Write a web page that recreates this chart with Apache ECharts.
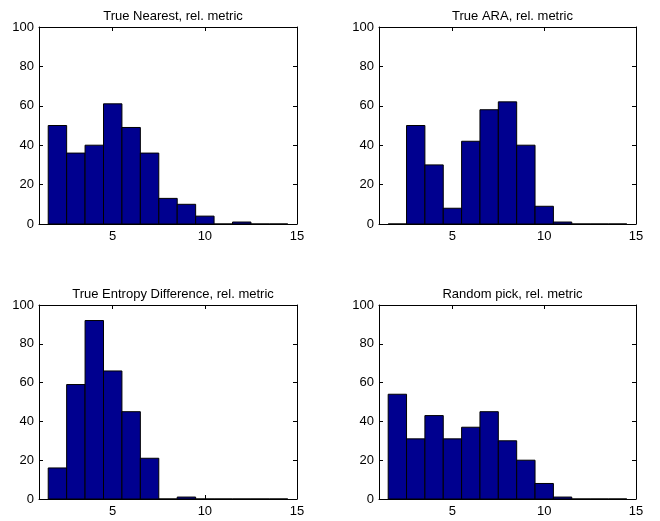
<!DOCTYPE html>
<html>
<head>
<meta charset="utf-8">
<script src="https://cdn.jsdelivr.net/npm/echarts@6/dist/echarts.min.js"></script>
<style>
  html, body { margin: 0; padding: 0; background: #fff; }
  #chart { width: 660px; height: 521px; }
</style>
</head>
<body>
<div id="chart"></div>
<script>
// Histogram bin centres (unit-width bins) shared by all panels
const binCenters = [2, 3, 4, 5, 6, 7, 8, 9, 10, 11, 12, 13, 14];

// Counts per bin for each selection method
const nearestCounts = [50, 36, 40, 61, 49, 36, 13, 10, 4, 0, 1, 0, 0];
const araCounts     = [0, 50, 30, 8, 42, 58, 62, 40, 9, 1, 0, 0, 0];
const entropyCounts = [16, 59, 92, 66, 45, 21, 0, 1, 0, 0, 0, 0, 0];
const randomCounts  = [54, 31, 43, 31, 37, 45, 30, 20, 8, 1, 0, 0, 0];

const panelTitles = [
  'True Nearest, rel. metric',
  'True ARA, rel. metric',
  'True Entropy Difference, rel. metric',
  'Random pick, rel. metric'
];
const panelCounts = [nearestCounts, araCounts, entropyCounts, randomCounts];

const xTicks = [5, 10, 15];
const yTicks = [0, 20, 40, 60, 80, 100];

const barColor = '#00008F';
const font = 'Liberation Sans, Arial, Helvetica, sans-serif';
const fontSize = 13;

const grids = [
  { left: 39,  top: 27,  width: 258, height: 197 },
  { left: 379, top: 27,  width: 257, height: 197 },
  { left: 39,  top: 305, width: 258, height: 194 },
  { left: 379, top: 305, width: 257, height: 194 }
];

const chart = echarts.init(document.getElementById('chart'), null, { renderer: 'canvas' });

const option = {
  animation: false,
  backgroundColor: '#fff',
  title: [],
  grid: [],
  xAxis: [],
  yAxis: [],
  series: []
};

function tickStyle(values) {
  const t = { show: true, inside: true, length: 4, lineStyle: { color: '#000', width: 1 } };
  if (values) t.customValues = values;
  return t;
}

function labelStyle(show, margin, values) {
  const l = { show: show, color: '#000', fontFamily: font, fontSize: fontSize, margin: margin };
  if (values) l.customValues = values;
  return l;
}

const axisLine = { show: true, onZero: false, lineStyle: { color: '#000', width: 1 } };

grids.forEach((g, i) => {
  option.grid.push(Object.assign({ containLabel: false }, g));

  option.title.push({
    text: panelTitles[i],
    left: g.left + g.width / 2,
    top: g.top - 22,
    textAlign: 'center',
    textStyle: { fontFamily: font, fontSize: fontSize, fontWeight: 'normal', color: '#000' }
  });

  // bottom and top x axes (the top one only mirrors the ticks)
  option.xAxis.push({
    type: 'value', gridIndex: i, position: 'bottom', min: 1, max: 15,
    axisLine: axisLine, splitLine: { show: false },
    axisTick: tickStyle(xTicks), axisLabel: labelStyle(true, 6, xTicks)
  }, {
    type: 'value', gridIndex: i, position: 'top', min: 1, max: 15,
    axisLine: axisLine, splitLine: { show: false },
    axisTick: tickStyle(xTicks), axisLabel: labelStyle(false, 6)
  });

  // left and right y axes
  option.yAxis.push({
    type: 'value', gridIndex: i, position: 'left', min: 0, max: 100, interval: 20,
    axisLine: axisLine, splitLine: { show: false },
    axisTick: tickStyle(yTicks), axisLabel: labelStyle(true, 5, yTicks)
  }, {
    type: 'value', gridIndex: i, position: 'right', min: 0, max: 100, interval: 20,
    axisLine: axisLine, splitLine: { show: false },
    axisTick: tickStyle(yTicks), axisLabel: labelStyle(false, 5)
  });

  const data = binCenters.map((c, k) => [c, panelCounts[i][k]]);
  option.series.push({
    type: 'custom',
    xAxisIndex: i * 2,
    yAxisIndex: i * 2,
    data: data,
    clip: true,
    renderItem: function (params, api) {
      const c = api.value(0);
      const v = api.value(1);
      const p0 = api.coord([c - 0.5, v]);
      const p1 = api.coord([c + 0.5, 0]);
      return {
        type: 'rect',
        shape: { x: p0[0], y: p0[1], width: p1[0] - p0[0], height: p1[1] - p0[1] },
        style: { fill: barColor, stroke: '#000', lineWidth: 1 }
      };
    }
  });
});

chart.setOption(option);
</script>
</body>
</html>
